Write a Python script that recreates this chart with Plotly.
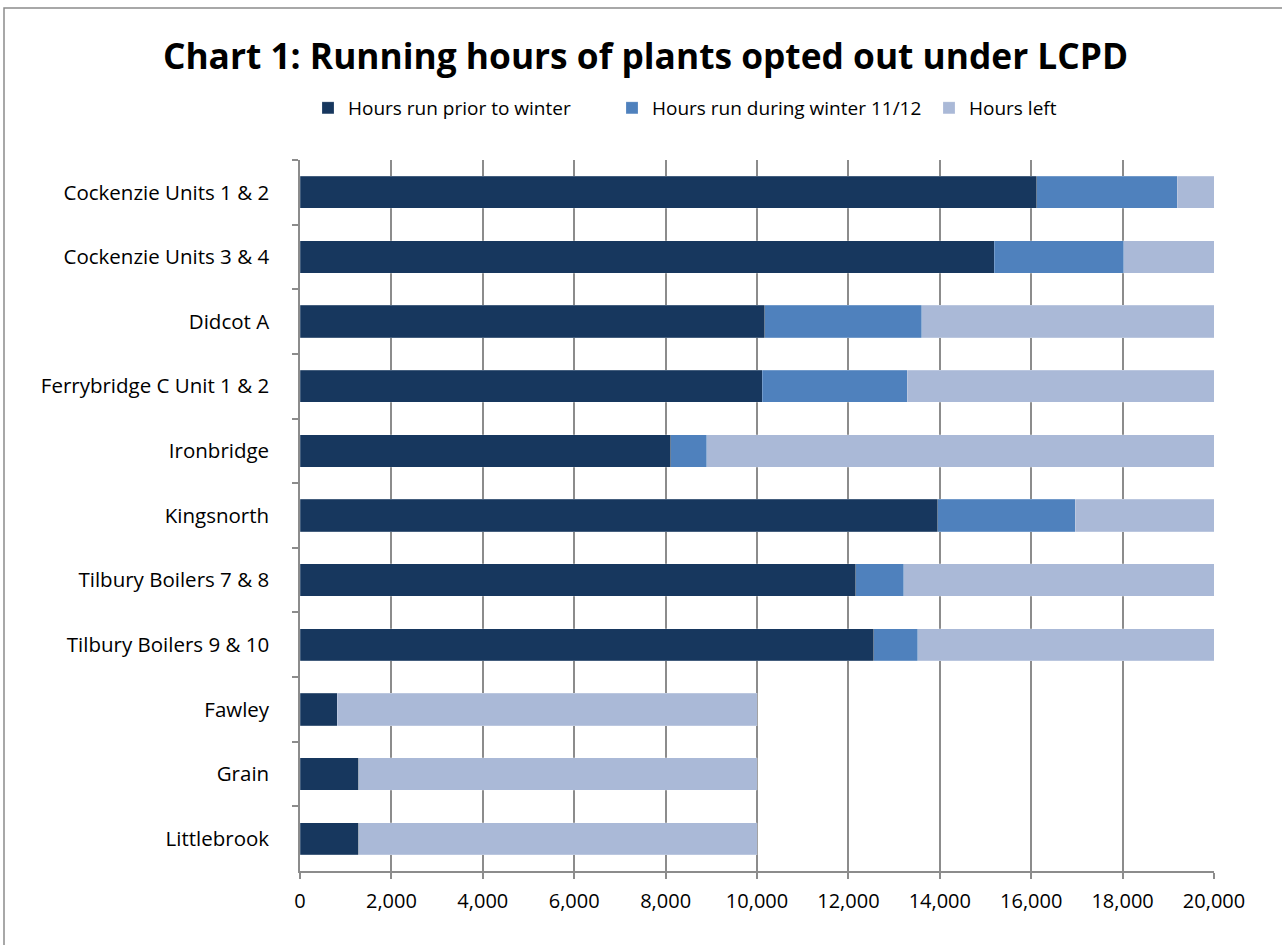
import plotly.graph_objects as go

categories = ["Cockenzie Units 1 & 2", "Cockenzie Units 3 & 4", "Didcot A",
              "Ferrybridge C Unit 1 & 2", "Ironbridge", "Kingsnorth",
              "Tilbury Boilers 7 & 8", "Tilbury Boilers 9 & 10",
              "Fawley", "Grain", "Littlebrook"]
prior = [16120, 15190, 10170, 10110, 8110, 13960, 12160, 12560, 820, 1280, 1280]
winter = [3080, 2830, 3440, 3175, 790, 3000, 1050, 960, 0, 0, 0]
total = [20000, 20000, 20000, 20000, 20000, 20000, 20000, 20000, 10000, 10000, 10000]
left = [t - p - w for t, p, w in zip(total, prior, winter)]

series_names = ["Hours run prior to winter", "Hours run during winter 11/12", "Hours left"]
colors = ["#17375E", "#4F81BD", "#AAB9D7"]
x_ticks = list(range(0, 20001, 2000))

FONT = "Open Sans"
W, H = 1282, 945
ML, MR, MT, MB = 300, 68, 160, 74
legend_px = [308, 612, 929]   # left edge of each legend entry box (px)
legend_ids = ["legend", "legend2", "legend3"]

fig = go.Figure()
for name, vals, col, lid in zip(series_names, [prior, winter, left], colors, legend_ids):
    fig.add_trace(go.Bar(
        y=categories, x=vals, name=name, orientation="h", legend=lid, showlegend=True,
        marker=dict(color=col, line=dict(color="rgba(255,255,255,0.4)", width=0.5)),
    ))

pw = W - ML - MR
ph = H - MT - MB
fig.add_shape(type="rect", xref="paper", yref="paper",
              x0=(4 - ML) / pw, x1=(W + 10 - ML) / pw,
              y0=((H - MB) - (H + 10)) / ph, y1=((H - MB) - 8) / ph,
              line=dict(color="#8C8C8C", width=1.5), fillcolor="rgba(0,0,0,0)", layer="below")

legend_common = dict(orientation="h", xref="container", xanchor="left",
                     yref="container", y=1 - 108 / H, yanchor="middle",
                     font=dict(family=FONT, size=19, color="black"),
                     bgcolor="rgba(0,0,0,0)", borderwidth=0)

fig.update_layout(
    width=W, height=H,
    margin=dict(l=ML, r=MR, t=MT, b=MB),
    barmode="stack", bargap=0.5, showlegend=True,
    plot_bgcolor="white", paper_bgcolor="white",
    font=dict(family=FONT, size=20, color="black"),
    title=dict(text="<b>Chart 1: Running hours of plants opted out under LCPD</b>",
               x=645.5 / W, xref="container", xanchor="center", y=1 - 57 / H, yanchor="middle",
               font=dict(family=FONT, size=35.3, color="black")),
    legend=dict(x=legend_px[0] / W, **legend_common),
    legend2=dict(x=legend_px[1] / W, **legend_common),
    legend3=dict(x=legend_px[2] / W, **legend_common),
    xaxis=dict(range=[0, 20000], tickvals=x_ticks,
               ticktext=[f"{v:,}" for v in x_ticks],
               showgrid=True, gridcolor="#8C8C8C", gridwidth=1.5,
               showline=True, linecolor="#8C8C8C", linewidth=1.5,
               ticks="outside", ticklen=6, tickcolor="#8C8C8C", tickwidth=1.5,
               zeroline=False, tickfont=dict(size=20), ticklabelstandoff=5),
    yaxis=dict(categoryorder="array", categoryarray=categories, autorange="reversed",
               showline=True, linecolor="#8C8C8C", linewidth=1.5,
               ticks="outside", ticklen=6, tickcolor="#8C8C8C", tickwidth=1.5,
               tickson="boundaries", showgrid=False, ticklabelstandoff=25,
               tickfont=dict(size=20.5)),
)

fig.write_html("out.html")
